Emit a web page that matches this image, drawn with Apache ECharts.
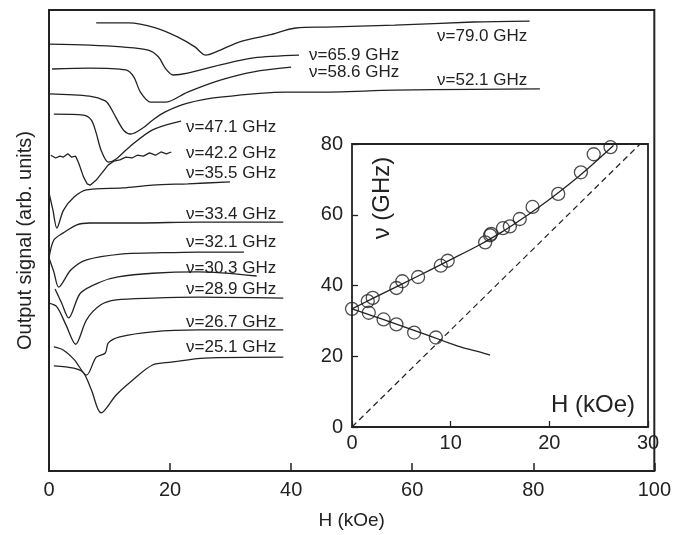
<!DOCTYPE html>
<html>
<head>
<meta charset="utf-8">
<script src="https://cdn.jsdelivr.net/npm/echarts/dist/echarts.min.js"></script>
<style>
  html, body { margin: 0; padding: 0; background: #fff; }
  #main { width: 674px; height: 535px; }
</style>
</head>
<body>
<div id="main"></div>
<script>
// 谱线数据: [H (kOe), 信号 (任意单位)]
var v790 = [[7.8,97.2],[13.2,97.2],[17.6,96.1],[21.3,94.1],[24.1,92.0],[25.9,90.2],[28.3,91.3],[31.5,93.1],[36.4,94.6],[40.8,96.1],[45.7,96.3],[57.1,96.7],[70.1,97.4],[79.4,97.6]];
var v659 = [[0,92.6],[6.7,92.4],[12.0,92.0],[16.4,91.3],[18.1,89.8],[19.2,87.4],[20.5,85.9],[22.9,86.3],[28.3,88.1],[33.8,89.6],[41.3,90.2]];
var v586 = [[0.5,87.2],[6.7,87.4],[12.7,87.0],[14.0,85.5],[15.1,82.2],[16.8,80.0],[19.2,80.0],[22.9,82.2],[28.3,84.8],[33.8,86.6],[40.0,87.6]];
var v521 = [[0,81.8],[6.7,81.3],[9.3,80.3],[10.1,79.0],[11.1,76.6],[12.4,73.8],[13.5,73.1],[15.5,74.4],[17.1,76.1],[19.2,77.9],[22.9,79.8],[28.3,81.1],[39.2,82.2],[44.1,82.2],[57.1,82.6],[70.1,82.8],[81.1,82.9]];
var v471 = [[0.8,77.4],[5.7,77.2],[7.0,76.1],[7.8,73.3],[8.6,69.6],[9.8,67.0],[10.9,67.5],[13.3,70.3],[17.1,74.0],[21.8,75.9]];
var v422 = [[0.3,68.5],[1.1,67.9],[1.8,68.3],[2.4,68.1],[3.1,68.8],[3.7,68.1],[4.4,68.3],[4.9,66.8],[5.7,63.8],[6.3,62.3],[6.8,62.0],[7.8,63.1],[9.8,66.4],[10.7,67.2],[11.7,67.5],[12.7,68.1],[13.7,67.9],[14.6,68.5],[15.6,68.3],[16.6,69.0],[17.6,68.5],[18.5,69.2],[19.4,68.8],[20.2,69.2]];
var v355 = [[0,60.3],[0.65,56.6],[1.3,52.7],[2.4,56.6],[4.1,59.4],[6.2,61.0],[12.2,61.4],[17.1,62.0],[22.9,62.3],[29.9,62.7]];
var v334 = [[0,46.2],[0.8,50.1],[2.3,51.6],[4.6,53.4],[6.7,53.8],[14.8,53.8],[24.6,54.0],[38.7,54.0]];
var v321 = [[0,46.2],[0.8,43.2],[1.6,39.9],[3.6,43.6],[6.2,45.8],[12.2,47.1],[17.1,47.3],[24.6,47.5],[32.2,47.5]];
var v303 = [[1.0,39.5],[2.1,36.4],[3.25,33.2],[5.2,38.6],[8.5,41.0],[11.4,42.1],[17.1,42.9],[24.6,43.2],[34.3,42.3]];
var v289 = [[0,36.4],[1.3,35.6],[2.8,31.7],[4.4,27.5],[6.2,32.8],[8.5,36.0],[11.1,37.1],[17.1,37.5],[24.6,37.7],[38.7,37.5]];
var v267 = [[0.8,26.9],[2.4,26.2],[4.2,24.1],[6.2,20.8],[7.8,24.7],[9.3,25.6],[9.8,27.8],[11.7,29.1],[17.1,30.2],[24.6,30.6],[38.7,30.6]];
var v251 = [[0.8,22.8],[4.1,22.3],[5.7,21.3],[7.0,17.6],[8.6,12.6],[11.1,16.5],[13.8,19.7],[17.1,23.0],[20.2,23.6],[25.7,24.5],[38.7,24.7]];

var spectra = [v790, v659, v586, v521, v471, v422, v355, v334, v321, v303, v289, v267, v251];
var freqLabels = ['ν=79.0 GHz','ν=65.9 GHz','ν=58.6 GHz','ν=52.1 GHz','ν=47.1 GHz','ν=42.2 GHz','ν=35.5 GHz','ν=33.4 GHz','ν=32.1 GHz','ν=30.3 GHz','ν=28.9 GHz','ν=26.7 GHz','ν=25.1 GHz'];

// 插图: 共振频率 vs H
var upperPts = [[0,33.4],[1.6,35.6],[2.1,36.5],[4.5,39.3],[5.1,41.2],[6.7,42.4],[9.0,45.6],[9.7,47.0],[13.5,52.2],[14.0,54.2],[14.1,54.6],[15.3,56.2],[16.0,56.7],[17.0,58.8],[18.3,62.2],[20.9,65.9],[23.2,72.0],[24.5,77.1],[26.2,79.1]];
var lowerPts = [[1.7,32.3],[3.2,30.4],[4.5,29.0],[6.3,26.7],[8.5,25.3]];
var upperFit = [[0,33.4],[2,36.2],[5,40.3],[8,44.5],[10,47.3],[13,51.6],[15,54.8],[18,60.3],[20,64.3],[22,68.6],[24,73.3],[26.5,79.6]];
var lowerFit = [[0,33.4],[2,31.5],[4,29.6],[6,27.6],[8,25.6],[10,23.6],[11.5,22.2],[13,21.2],[14,20.3]];
var dashLine = [[0,0],[29.2,80]];

// 标签位置 (像素)
var labelPos = [[437,36],[309,55],[309,72],[437,80],[186,127],[186,153],[186,173],[186,214],[186,242],[186,268],[186,289],[186,322],[186,347]];

var ink = '#222';
var font = '"Liberation Sans", Arial, sans-serif';

var myChart = echarts.init(document.getElementById('main'));

var series = [];
spectra.forEach(function (d, i) {
    series.push({
        type: 'line', xAxisIndex: 0, yAxisIndex: 0,
        data: d, showSymbol: false, smooth: i === 5 ? false : 0.3,
        lineStyle: { color: ink, width: 1.3 }, silent: true
    });
});
series.push({ type: 'line', xAxisIndex: 1, yAxisIndex: 1, data: upperFit, showSymbol: false, smooth: 0.3, lineStyle: { color: ink, width: 1.3 } });
series.push({ type: 'line', xAxisIndex: 1, yAxisIndex: 1, data: lowerFit, showSymbol: false, smooth: 0.3, lineStyle: { color: ink, width: 1.3 } });
series.push({ type: 'line', xAxisIndex: 1, yAxisIndex: 1, data: dashLine, showSymbol: false, lineStyle: { color: ink, width: 1.2, type: [6, 4] } });
[upperPts, lowerPts].forEach(function (d) {
    series.push({
        type: 'scatter', xAxisIndex: 1, yAxisIndex: 1, data: d, symbol: 'circle', symbolSize: 13,
        itemStyle: { color: 'rgba(0,0,0,0)', borderColor: ink, borderWidth: 1.3 }
    });
});

var graphic = freqLabels.map(function (t, i) {
    return {
        type: 'text', x: labelPos[i][0], y: labelPos[i][1],
        style: { text: t, font: '17px ' + font, fill: ink, verticalAlign: 'middle' }
    };
});
graphic.push({ type: 'text', x: 382, y: 198, rotation: Math.PI / 2,
    style: { text: 'ν (GHz)', font: '24px ' + font, fill: ink, align: 'center', verticalAlign: 'middle' } });
graphic.push({ type: 'text', x: 593, y: 405,
    style: { text: 'H (kOe)', font: '24px ' + font, fill: ink, align: 'center', verticalAlign: 'middle' } });

var option = {
    animation: false,
    grid: [
        { left: 49, right: 10, top: 10, bottom: 64, show: true, borderColor: ink, borderWidth: 2 },
        { left: 352, top: 144, width: 296, height: 283, show: true, borderColor: ink, borderWidth: 1.8 }
    ],
    xAxis: [
        { gridIndex: 0, type: 'value', min: 0, max: 100, interval: 20,
          axisLine: { show: false }, splitLine: { show: false },
          axisTick: { inside: true, length: 8, lineStyle: { color: ink, width: 1.5 } },
          axisLabel: { fontSize: 20, margin: 9, color: ink, fontFamily: font },
          name: 'H (kOe)', nameLocation: 'middle', nameGap: 40,
          nameTextStyle: { fontSize: 19, color: ink, fontFamily: font } },
        { gridIndex: 1, type: 'value', min: 0, max: 30, interval: 10,
          axisLine: { show: false }, splitLine: { show: false },
          axisTick: { inside: true, length: 6, lineStyle: { color: ink, width: 1.3 } },
          axisLabel: { fontSize: 20, margin: 6, color: ink, fontFamily: font } }
    ],
    yAxis: [
        { gridIndex: 0, type: 'value', min: 0, max: 100,
          axisLine: { show: false }, splitLine: { show: false },
          axisTick: { show: false }, axisLabel: { show: false },
          name: 'Output signal (arb. units)', nameLocation: 'middle', nameGap: 14,
          nameTextStyle: { fontSize: 20, color: ink, fontFamily: font } },
        { gridIndex: 1, type: 'value', min: 0, max: 80, interval: 20,
          axisLine: { show: false }, splitLine: { show: false },
          axisTick: { inside: true, length: 6, lineStyle: { color: ink, width: 1.3 } },
          axisLabel: { fontSize: 20, margin: 9, color: ink, fontFamily: font } }
    ],
    graphic: graphic,
    series: series
};

myChart.setOption(option);
</script>
</body>
</html>
